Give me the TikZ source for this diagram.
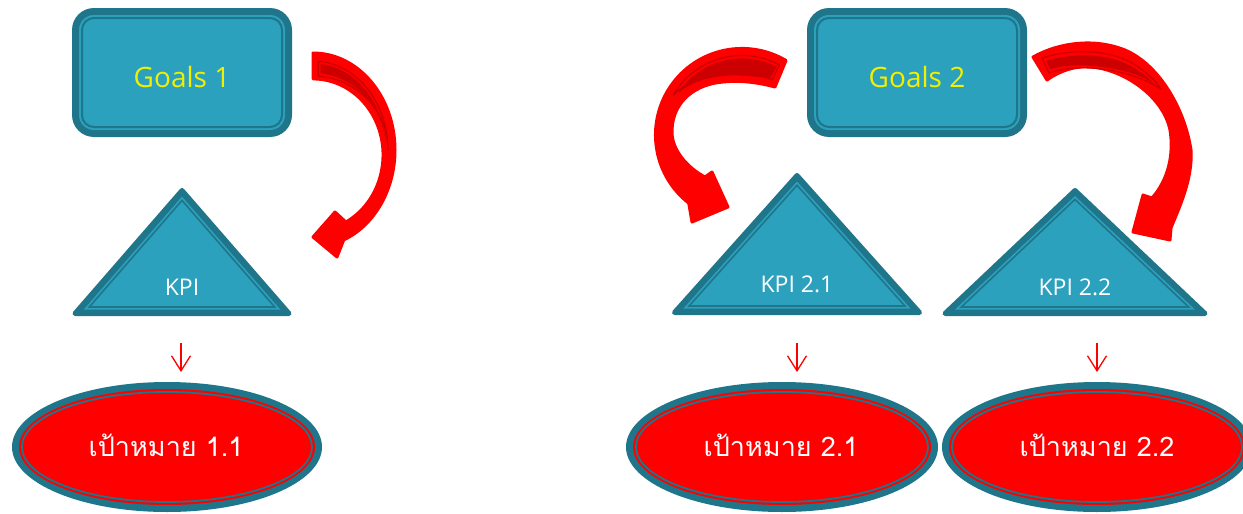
\documentclass[tikz,border=0pt]{standalone}
\usepackage{fontspec}
\setmainfont{Open Sans}
\newfontfamily\thaifont[Script=Thai]{Loma}
\usetikzlibrary{arrows.meta}
\definecolor{tealdark}{HTML}{1F7589}
\definecolor{teallight}{HTML}{2CA1BE}
\definecolor{darkred}{HTML}{CC0000}
\definecolor{goalyellow}{HTML}{F0F000}
\tikzset{
  bigarrow/.style={fill=red, draw=red, line width=3pt, line join=round},
  stripe/.style={fill=red, draw=darkred, line width=1.2pt, line join=round},
  stripein/.style={fill=darkred},
  triouter/.style={fill=tealdark, draw=tealdark, line width=5pt, line join=round},
  trimid/.style={fill=teallight},
  triline/.style={draw=tealdark, line width=1.6pt},
  goaltext/.style={text=goalyellow, font=\fontsize{28}{33}\selectfont, anchor=base},
  kpitext/.style={text=white, font=\fontsize{23}{27}\selectfont, anchor=base},
  thaitext/.style={text=white, font=\thaifont\fontsize{27}{32}\selectfont, anchor=base},
  smallarrow/.style={draw=red, line width=1.3pt, -{Straight Barb[length=15pt,width=19pt]}}
}
\newcommand\goalbox[4]{%
  \fill[tealdark, rounded corners=22pt] (#1,#2) rectangle (#3,#4);
  \fill[teallight, rounded corners=15pt] ({#1+7},{#2+7}) rectangle ({#3-7},{#4-7});
  \draw[tealdark, line width=2pt, rounded corners=12pt] ({#1+10},{#2+10}) rectangle ({#3-10},{#4-10});
}
\newcommand\goalellipse[3]{%
  \fill[tealdark] (#1,#2) ellipse [x radius=#3, y radius=65];
  \fill[red] (#1,#2) ellipse [x radius=#3-7, y radius=58];
  \draw[tealdark, line width=1.8pt] (#1,#2) ellipse [x radius=#3-10, y radius=55];
}
% #1 apex x, #2 apex y, #3 half base, #4 base y, #5 incentre y, #6 k2, #7 k3
\newcommand\kpitriangle[7]{%
  \path[triouter] (#1,#2) -- ({#1-#3},#4) -- ({#1+#3},#4) -- cycle;
  \path[trimid, scale around={#6:(#1,#5)}] (#1,#2) -- ({#1-#3},#4) -- ({#1+#3},#4) -- cycle;
  \path[triline, scale around={#7:(#1,#5)}] (#1,#2) -- ({#1-#3},#4) -- ({#1+#3},#4) -- cycle;
}
\begin{document}
\begin{tikzpicture}[x=1pt, y=-1pt]
\useasboundingbox (0,0) rectangle (1243,514);

% Goal boxes
\goalbox{72}{8}{292}{137}
\goalbox{807}{8}{1027}{137}
\node[goaltext] (g1) at (182,87) {Goals 1};
\node[goaltext] (g2) at (917,87) {Goals 2};

% KPI triangles
\kpitriangle{182}{190.5}{107}{313.5}{264.8}{0.918}{0.8665}
\kpitriangle{797}{175.5}{122.5}{312.5}{257.7}{0.927}{0.881}
\kpitriangle{1075}{190.5}{130}{313.5}{261.75}{0.9227}{0.8744}

\node[kpitext] (k1) at (182,295) {KPI};
\node[kpitext] (k21) at (797,292) {KPI 2.1};
\node[kpitext] (k22) at (1075,295) {KPI 2.2};

% Small arrows
\coordinate (a1s) at (181,343); \coordinate (a1e) at (181,372);
\coordinate (a2s) at (797,343); \coordinate (a2e) at (797,372);
\coordinate (a3s) at (1097,343); \coordinate (a3e) at (1097,372);
\draw[smallarrow] (a1s) -- (a1e);
\draw[smallarrow] (a2s) -- (a2e);
\draw[smallarrow] (a3s) -- (a3e);

% Target ellipses
\goalellipse{167}{447}{155}
\goalellipse{782}{447}{156}
\goalellipse{1097}{447}{155}
\node[thaitext] (t11) at (166,456) {เป้าหมาย 1.1};
\node[thaitext] (t21) at (781,456) {เป้าหมาย 2.1};
\node[thaitext] (t22) at (1097,456) {เป้าหมาย 2.2};

% Curved arrow 1 (Goals 1 -> KPI)
\path[bigarrow] (313,53) arc[start angle=-90, end angle=68, x radius=82, y radius=97]
  -- (337,257) -- (313,237) -- (335,212) -- (345.9,222)
  arc[start angle=62, end angle=-90, x radius=70, y radius=76] -- cycle;
\path[stripe] (318.2,61.2) arc[start angle=-86, end angle=0, x radius=75, y radius=89]
  arc[start angle=0, end angle=-86, x radius=75, y radius=74] -- cycle;
\path[stripein] (320.6,64) arc[start angle=-84, end angle=-3, x radius=73, y radius=86.5]
  arc[start angle=-3, end angle=-84, x radius=73, y radius=76.5] -- cycle;

% Curved arrow 2 (Goals 2 -> KPI 2.1)
\path[bigarrow] (786,60.5) arc[start angle=-59.4, end angle=-232, radius=86.5]
  -- (692,222) -- (728,207) -- (712,172) -- (705,177)
  .. controls (688,168) and (671,150) .. (672,130)
  .. controls (673,100) and (697,84) .. (723,82)
  .. controls (742,80) and (760,83) .. (775,87) -- cycle;
\path[stripe] (779.3,64.8) arc[start angle=-62, end angle=-150, radius=79.5]
  .. controls (688,80) and (712,71) .. (740,72)
  .. controls (752,72.5) and (763,76) .. (772,80) -- cycle;
\path[stripein] (776.7,66.8) arc[start angle=-63, end angle=-147, radius=76.5]
  .. controls (692,81) and (714,74.5) .. (740,75.5)
  .. controls (752,76) and (762,77.5) .. (770,78) -- cycle;

% Curved arrow 3 (Goals 2 -> KPI 2.2)
\path[bigarrow] (1033,57)
  .. controls (1060,42) and (1095,38) .. (1125,50)
  .. controls (1160,65) and (1185,110) .. (1191,150)
  .. controls (1193,180) and (1178,210) .. (1171,228)
  -- (1170,240) -- (1133,232) -- (1143,195) -- (1152,198)
  .. controls (1168,180) and (1174,155) .. (1170,130)
  .. controls (1164,100) and (1130,72) .. (1093,67)
  .. controls (1075,65) and (1058,72) .. (1047,80) -- cycle;
\path[stripe] (1042,58) .. controls (1070,49) and (1110,48) .. (1137,66)
  .. controls (1147,73) and (1155,80) .. (1161,89)
  .. controls (1150,82) and (1140,78) .. (1133,76)
  .. controls (1110,68) and (1075,64) .. (1049,73) -- cycle;
\path[stripein] (1046,61) .. controls (1072,53) and (1108,52) .. (1134,68)
  .. controls (1142,73) and (1149,78) .. (1153,83)
  .. controls (1145,78) and (1138,75) .. (1131,73)
  .. controls (1108,66) and (1075,62) .. (1050,69) -- cycle;
\end{tikzpicture}
\end{document}
